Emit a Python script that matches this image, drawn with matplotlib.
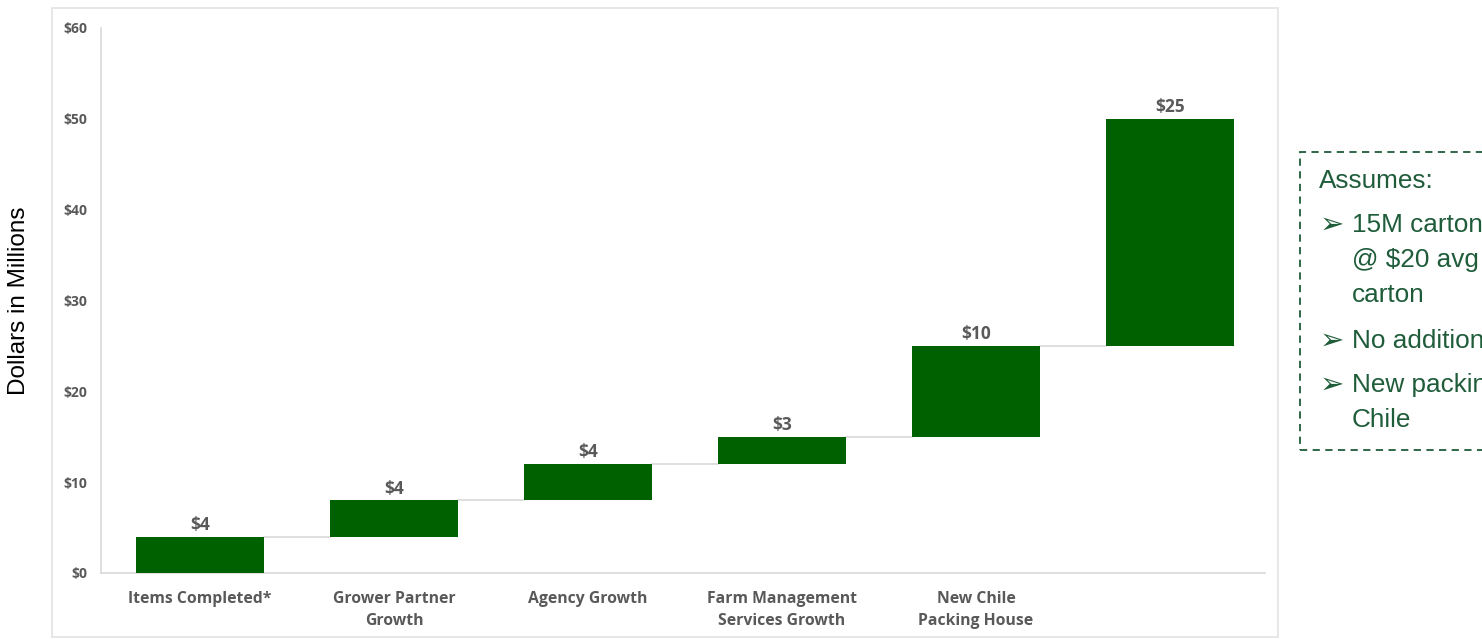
import matplotlib.pyplot as plt
from matplotlib.patches import Rectangle

categories = ["Items Completed*", "Grower Partner\nGrowth", "Agency Growth",
              "Farm Management\nServices Growth", "New Chile\nPacking House", ""]
increments = [4, 4, 4, 3, 10, 25]
bar_labels = ["$4", "$4", "$4", "$3", "$10", "$25"]
yticks = [0, 10, 20, 30, 40, 50, 60]
ytick_labels = ["$0", "$10", "$20", "$30", "$40", "$50", "$60"]

notes = [
    ("Assumes:", False),
    ("15M cartons", True),
    ("@ $20 avg per", False),
    ("carton", False),
    ("No additional", True),
    ("New packing house in", True),
    ("Chile", False),
]

GREEN = "#006100"
GREY_TXT = "#595959"
LINE = "#d9d9d9"
NOTE = "#1f5c3a"

bottoms = []
total = 0
for v in increments:
    bottoms.append(total)
    total += v

fig = plt.figure(figsize=(14.82, 6.39), dpi=100)
ax = fig.add_axes([0.0682, 0.1033, 0.7854, 0.8529])

# light panel border around the chart
fig.patches.append(Rectangle((52 / 1482, 2 / 639), 1226 / 1482, 629 / 639,
                             transform=fig.transFigure, fill=False,
                             edgecolor="#e3e3e3", linewidth=1.2))

x = list(range(len(categories)))
width = 0.655
ax.bar(x, increments, bottom=bottoms, width=width, color=GREEN, zorder=3)

for i, (v, b, lab) in enumerate(zip(increments, bottoms, bar_labels)):
    ax.annotate(lab, (i, b + v), textcoords="offset points", xytext=(0, 2),
                ha="center", va="bottom", fontsize=12.5, fontweight="bold",
                color=GREY_TXT, family="Open Sans")
    if i < len(increments) - 1:
        ax.plot([i + width / 2, i + 1 - width / 2], [b + v, b + v],
                color=LINE, linewidth=1.2, zorder=2)

ax.set_xlim(-0.51, 5.49)
ax.set_ylim(0, 60)
ax.set_yticks(yticks)
ax.set_yticklabels(ytick_labels, fontsize=10, fontweight="bold",
                   color=GREY_TXT, family="Open Sans")
ax.set_xticks(x)
ax.set_xticklabels(categories, fontsize=11.3, fontweight="bold",
                   color=GREY_TXT, family="Open Sans", linespacing=1.5)
ax.tick_params(length=0, pad=10)
ax.tick_params(axis="x", pad=13)
for side in ("top", "right"):
    ax.spines[side].set_visible(False)
for side in ("left", "bottom"):
    ax.spines[side].set_color(LINE)
    ax.spines[side].set_linewidth(1.2)

fig.text(19 / 1482, 0.53, "Dollars in Millions", rotation=90, ha="center",
         va="center", fontsize=17.5, family="Liberation Sans", color="black")

# dashed assumptions box (runs off the right edge)
fig.patches.append(Rectangle((1300 / 1482, 189 / 639), 300 / 1482, 298 / 639,
                             transform=fig.transFigure, fill=False,
                             edgecolor=NOTE, linewidth=1.3,
                             linestyle=(0, (4, 3))))
ys = [181, 225, 260, 295, 341, 385, 420]
for (txt, bullet), ypix in zip(notes, ys):
    yf = 1 - ypix / 639
    if txt == "Assumes:":
        fig.text(1319 / 1482, yf, txt, fontsize=18.8, color=NOTE,
                 family="Liberation Sans", va="center")
        continue
    if bullet:
        fig.text(1320 / 1482, yf, "\u27a2", fontsize=21, color=NOTE,
                 family=["DejaVu Sans"], va="center")
    fig.text(1352 / 1482, yf, txt, fontsize=18.8, color=NOTE,
             family="Liberation Sans", va="center")

fig.savefig("out.png", dpi=100)
